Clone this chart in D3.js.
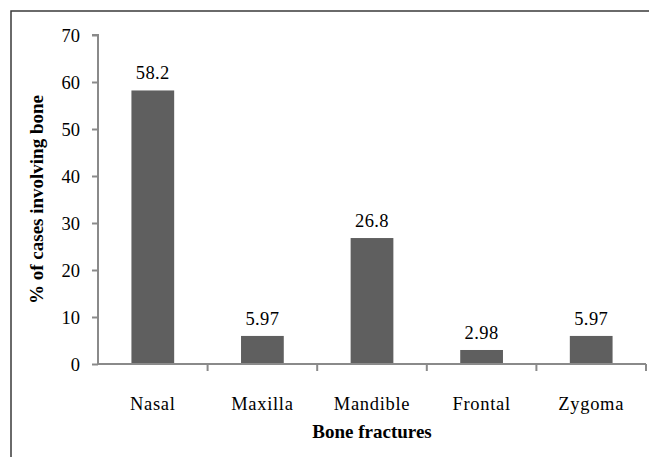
<!DOCTYPE html>
<html>
<head>
<meta charset="utf-8">
<script src="https://cdn.jsdelivr.net/npm/d3@7"></script>
<style>
  html, body { margin: 0; padding: 0; background: #fff; }
  svg { display: block; }
</style>
</head>
<body>
<svg id="chart" width="649" height="457"></svg>
<script>
// Share of cases in which each bone was fractured
const categories = ["Nasal", "Maxilla", "Mandible", "Frontal", "Zygoma"];
const percentages = [58.2, 5.97, 26.8, 2.98, 5.97];
const valueLabels = ["58.2", "5.97", "26.8", "2.98", "5.97"];
const yTicks = [0, 10, 20, 30, 40, 50, 60, 70];

const FONT = "'Liberation Serif', 'Times New Roman', Times, 'DejaVu Serif', serif";

const svg = d3.select("#chart")
  .attr("font-family", FONT);
const width = 649, height = 457;
const plot = { left: 98, right: 646, top: 35, bottom: 364 };

// Outer frame (left and top edges)
svg.append("path")
  .attr("d", `M11,${height} L11,11 L${width},11`)
  .attr("fill", "none")
  .attr("stroke", "#3a3a3a")
  .attr("stroke-width", 1.5);

const x = d3.scaleBand()
  .domain(categories)
  .range([plot.left, plot.right])
  .padding(0);

const y = d3.scaleLinear()
  .domain([0, 70])
  .range([plot.bottom, plot.top]);

const axisColor = "#8a8a8a";
const barWidth = x.bandwidth() * 0.39;

// Bars
svg.append("g")
  .selectAll("rect")
  .data(percentages)
  .join("rect")
  .attr("x", (d, i) => x(categories[i]) + (x.bandwidth() - barWidth) / 2)
  .attr("y", d => y(d))
  .attr("width", barWidth)
  .attr("height", d => y(0) - y(d))
  .attr("fill", "#5f5f5f");

// Value labels above bars
svg.append("g")
  .selectAll("text")
  .data(percentages)
  .join("text")
  .attr("x", (d, i) => x(categories[i]) + x.bandwidth() / 2)
  .attr("y", d => y(d) - 11)
  .attr("text-anchor", "middle")
  .attr("font-family", FONT)
  .attr("font-size", 18.5)
  .attr("letter-spacing", 0.4)
  .text((d, i) => valueLabels[i]);

// Y axis
const yAxis = svg.append("g")
  .attr("transform", `translate(${plot.left},0)`)
  .call(d3.axisLeft(y).tickValues(yTicks).tickSize(6).tickPadding(12).tickFormat(d3.format("d")));
yAxis.attr("font-family", FONT).attr("font-size", 18.5);
yAxis.select(".domain").attr("stroke", axisColor).attr("stroke-width", 2)
  .attr("d", `M-6,${y(70)}H0V${y(0)}`);
yAxis.selectAll(".tick line").attr("stroke", axisColor).attr("stroke-width", 2);
yAxis.selectAll(".tick text")
  .attr("font-family", FONT)
  .attr("font-size", 18.5)
  .attr("fill", "#000")
  .attr("dy", "0.35em");

// X axis with ticks on the category boundaries
const xAxisG = svg.append("g")
  .attr("transform", `translate(0,${plot.bottom})`);
xAxisG.append("line")
  .attr("x1", plot.left).attr("x2", plot.right)
  .attr("stroke", axisColor).attr("stroke-width", 2);
const boundaries = categories.map(c => x(c) + x.bandwidth());
xAxisG.selectAll("line.tick")
  .data(boundaries)
  .join("line")
  .attr("class", "tick")
  .attr("x1", d => d).attr("x2", d => d)
  .attr("y1", 0).attr("y2", 7)
  .attr("stroke", axisColor).attr("stroke-width", 2);
xAxisG.selectAll("text")
  .data(categories)
  .join("text")
  .attr("x", d => x(d) + x.bandwidth() / 2)
  .attr("y", 46)
  .attr("text-anchor", "middle")
  .attr("font-family", FONT)
  .attr("font-size", 18.5)
  .attr("letter-spacing", 0.7)
  .text(d => d);

// Axis titles
svg.append("text")
  .attr("x", (plot.left + plot.right) / 2)
  .attr("y", 438)
  .attr("text-anchor", "middle")
  .attr("font-family", FONT)
  .attr("font-size", 19)
  .attr("font-weight", "bold")
  .text("Bone fractures");

svg.append("text")
  .attr("transform", `translate(43,${(plot.top + plot.bottom) / 2}) rotate(-90)`)
  .attr("text-anchor", "middle")
  .attr("font-family", FONT)
  .attr("font-size", 19)
  .attr("font-weight", "bold")
  .text("% of cases involving bone");
</script>
</body>
</html>
